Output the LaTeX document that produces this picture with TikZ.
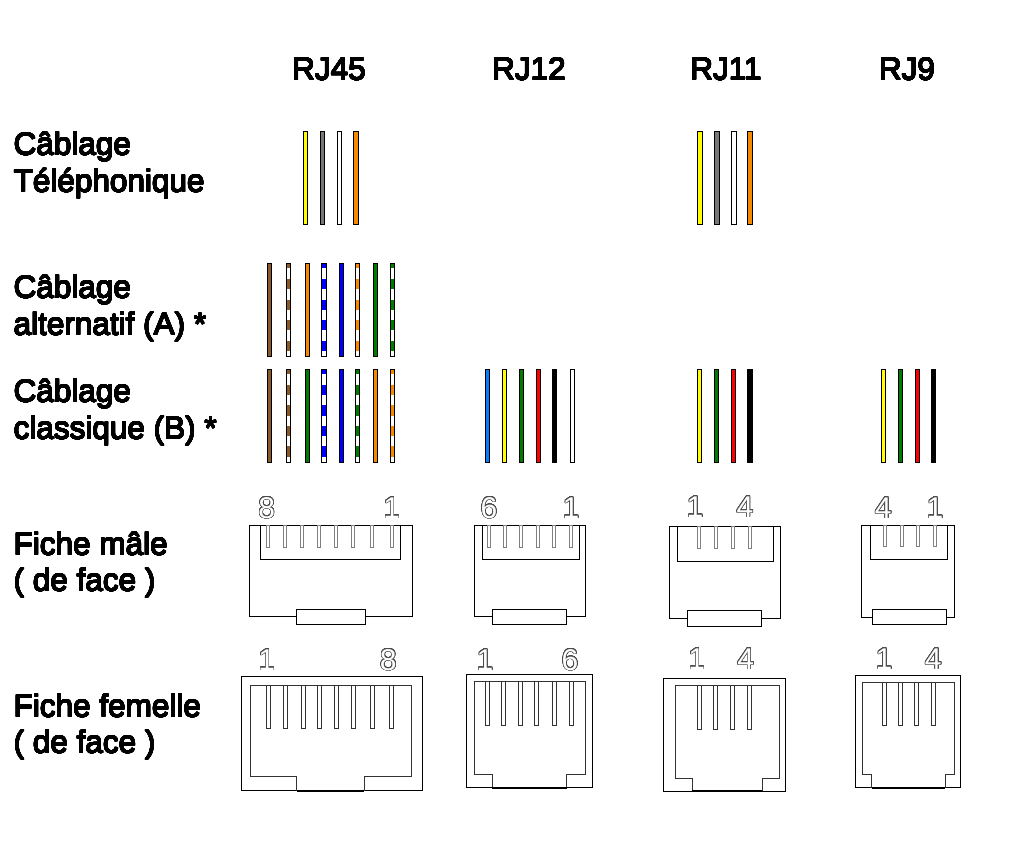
\documentclass[tikz,border=0pt]{standalone}
\usepackage{fontspec}
\setmainfont{Liberation Sans}
\usepackage{contour}
\contourlength{0.6pt}
\contournumber{32}
\newcommand\heavy[1]{{\contourlength{0.35pt}\contour{black}{#1}}}
\definecolor{wbrown}{HTML}{8B5A2B}
\definecolor{worange}{HTML}{F58A00}
\definecolor{wblue}{HTML}{0000FF}
\definecolor{wlblue}{HTML}{0A7CFF}
\definecolor{wgreen}{HTML}{007A00}
\definecolor{wyellow}{HTML}{FFFF00}
\definecolor{wred}{HTML}{FF0000}
\definecolor{wgray}{HTML}{777777}
\newcommand\wire[4]{%
  \filldraw[fill=#4,draw=black,line width=0.9pt] ({#1-2.1},#2) rectangle ({#1+2.1},#3);}
\newcommand\swire[4]{%
  \fill[white] ({#1-2.1},#2) rectangle ({#1+2.1},#3);
  \fill[#4] ({#1-2.1},#2) rectangle ({#1+2.1},{#2+5});
  \foreach \k in {0,...,3}{\fill[#4] ({#1-2.1},{#2+15.7+20.5*\k}) rectangle ({#1+2.1},{#2+26+20.5*\k});}
  \draw[black,line width=0.9pt] ({#1-2.1},#2) rectangle ({#1+2.1},#3);}
\begin{document}
\begin{tikzpicture}[x=1pt,y=-1pt,
  lab/.style={anchor=base west,inner sep=0pt,font=\fontsize{31.5}{36}\selectfont},
  head/.style={anchor=base,inner sep=0pt,font=\fontsize{31.5}{36}\selectfont},
  num/.style={anchor=base,inner sep=0pt,font=\fontsize{30}{34}\selectfont,text=white},
  body/.style={draw=black,line width=1pt},
  inner/.style={draw=black!80,line width=1pt},
  mpin/.style={draw=black!50,line width=0.9pt},
  fpin/.style={draw=black!80,line width=0.9pt}]
\fill[white] (0,0) rectangle (1011,845);
\useasboundingbox (0,0) rectangle (1011,845);

% headers
\node[head] (h45) at (329,80) {\heavy{RJ45}};
\node[head] (h12) at (529,80) {\heavy{RJ12}};
\node[head] (h11) at (726,80) {\heavy{RJ11}};
\node[head] (h9) at (907,80) {\heavy{RJ9}};

% labels
\node[lab] (l1a) at (13.5,155) {\heavy{Câblage}};
\node[lab] (l1b) at (13.5,192) {\heavy{Téléphonique}};
\node[lab] (l2a) at (13.5,298) {\heavy{Câblage}};
\node[lab] (l2b) at (13.5,335) {\heavy{alternatif (A) *}};
\node[lab] (l3a) at (13.5,402) {\heavy{Câblage}};
\node[lab] (l3b) at (13.5,439) {\heavy{classique (B) *}};
\node[lab] (l4a) at (13.5,555) {\heavy{Fiche mâle}};
\node[lab] (l4b) at (13.5,591) {\heavy{( de face )}};
\node[lab] (l5a) at (13.5,717) {\heavy{Fiche femelle}};
\node[lab] (l5b) at (13.5,753) {\heavy{( de face )}};

% telephone wiring
\wire{305.7}{131}{224}{wyellow}
\wire{322.7}{131}{224}{wgray}
\wire{339.3}{131}{224}{white}
\wire{356}{131}{224}{worange}
\wire{700}{131}{224}{wyellow}
\wire{717}{131}{224}{wgray}
\wire{734}{131}{224}{white}
\wire{750}{131}{224}{worange}

% alternative (A)
\wire{269.3}{263.3}{356.7}{wbrown}
\swire{288.3}{263.3}{356.7}{wbrown}
\wire{307.3}{263.3}{356.7}{worange}
\swire{324}{263.3}{356.7}{wblue}
\wire{341.3}{263.3}{356.7}{wblue}
\swire{357.3}{263.3}{356.7}{worange}
\wire{375.3}{263.3}{356.7}{wgreen}
\swire{392.3}{263.3}{356.7}{wgreen}

% classic (B)
\wire{269.3}{369}{462.3}{wbrown}
\swire{288.3}{369}{462.3}{wbrown}
\wire{307.3}{369}{462.3}{wgreen}
\swire{324}{369}{462.3}{wblue}
\wire{341.3}{369}{462.3}{wblue}
\swire{357.3}{369}{462.3}{wgreen}
\wire{375.3}{369}{462.3}{worange}
\swire{392.3}{369}{462.3}{worange}

% RJ12
\wire{487.3}{369.3}{462.3}{wlblue}
\wire{504.3}{369.3}{462.3}{wyellow}
\wire{521.3}{369.3}{462.3}{wgreen}
\wire{538.3}{369.3}{462.3}{wred}
\wire{554.3}{369.3}{462.3}{black}
\wire{572.3}{369.3}{462.3}{white}

% RJ11
\wire{699.7}{369.3}{462.3}{wyellow}
\wire{716.7}{369.3}{462.3}{wgreen}
\wire{733.7}{369.3}{462.3}{wred}
\wire{750}{369.3}{462.3}{black}

% RJ9
\wire{883.3}{369.3}{462.3}{wyellow}
\wire{900.3}{369.3}{462.3}{wgreen}
\wire{917.3}{369.3}{462.3}{wred}
\wire{933.3}{369.3}{462.3}{black}

% ---------- male plugs ----------
% RJ45 male
\draw[body] (296.7,616.7) -- (249.3,616.7) -- (249.3,525) -- (412.3,525) -- (412.3,616.7) -- (365,616.7);
\draw[body] (296.7,609) rectangle (365,624.3);
\draw[body] (260.7,525) rectangle (400.7,559);
\foreach \p in {267.7,285,302,319,336.3,353,371.7,391.7}{\draw[mpin] ({\p-1.6},525) rectangle ({\p+1.6},547.3);}
\node[num] (m45a) at (266.7,518) {\contour{black!70}{8}};
\node[num] (m45b) at (391.7,518) {\contour{black!70}{1}};

% RJ12 male
\draw[body] (492.3,616) -- (474,616) -- (474,525.7) -- (585.3,525.7) -- (585.3,616) -- (566.7,616);
\draw[body] (492.3,609) rectangle (566.7,624.3);
\draw[body] (482.3,525.7) rectangle (579.3,559);
\foreach \p in {489.3,505,521,537.7,554.3,571}{\draw[mpin] ({\p-1.6},525.7) rectangle ({\p+1.6},547.3);}
\node[num] (m12a) at (489,518) {\contour{black!70}{6}};
\node[num] (m12b) at (571,518) {\contour{black!70}{1}};

% RJ11 male
\draw[body] (687.3,618.3) -- (669,618.3) -- (669,526.7) -- (780.3,526.7) -- (780.3,618.3) -- (761.7,618.3);
\draw[body] (687.3,610) rectangle (761.7,626.7);
\draw[body] (677.3,526.7) rectangle (773.3,561);
\foreach \p in {699.3,716,733.3,750}{\draw[mpin] ({\p-1.6},526.7) rectangle ({\p+1.6},548.3);}
\node[num] (m11a) at (695,517) {\contour{black!70}{1}};
\node[num] (m11b) at (745,517) {\contour{black!70}{4}};

% RJ9 male
\draw[body] (872.3,617.3) -- (861.7,617.3) -- (861.7,525) -- (954,525) -- (954,617.3) -- (946.7,617.3);
\draw[body] (872.3,609) rectangle (946.7,624.3);
\draw[body] (870.7,525) rectangle (947.3,559);
\foreach \p in {885,901.7,918.3,935}{\draw[mpin] ({\p-1.6},525) rectangle ({\p+1.6},546.7);}
\node[num] (m9a) at (883.3,518) {\contour{black!70}{4}};
\node[num] (m9b) at (935,518) {\contour{black!70}{1}};

% ---------- female plugs ----------
% RJ45 female
\draw[body] (241,676.7) rectangle (422.7,790.7);
\draw[inner] (296.7,790.7) -- (296.7,776.7) -- (250.7,776.7) -- (250.7,685) -- (411.7,685) -- (411.7,776.7) -- (364,776.7) -- (364,790.7);
\draw[black,line width=1.6pt] (296.7,790.7) -- (364,790.7);
\foreach \p in {268.3,285.3,303.3,319.3,336.7,353.3,372.3,391.7}{\draw[fpin] ({\p-2},685) rectangle ({\p+2},728.3);}
\node[num] (f45a) at (266.7,670) {\contour{black!70}{1}};
\node[num] (f45b) at (388.3,670) {\contour{black!70}{8}};

% RJ12 female
\draw[body] (466.7,674.3) rectangle (592.3,787.7);
\draw[inner] (492.3,787.7) -- (492.3,774.3) -- (474.3,774.3) -- (474.3,681.7) -- (585.7,681.7) -- (585.7,774.3) -- (566.7,774.3) -- (566.7,787.7);
\draw[black,line width=1.6pt] (492.3,787.7) -- (566.7,787.7);
\foreach \p in {487.3,503.3,520,536.7,554.3,571.7}{\draw[fpin] ({\p-2},681.7) rectangle ({\p+2},725);}
\node[num] (f12a) at (485,670) {\contour{black!70}{1}};
\node[num] (f12b) at (570,670) {\contour{black!70}{6}};

% RJ11 female
\draw[body] (663.3,678.3) rectangle (785.7,791);
\draw[inner] (692.3,791) -- (692.3,778.3) -- (675.7,778.3) -- (675.7,685) -- (779,685) -- (779,778.3) -- (762.3,778.3) -- (762.3,791);
\draw[black,line width=1.6pt] (692.3,791) -- (762.3,791);
\foreach \p in {699.3,715.7,732.3,749.3}{\draw[fpin] ({\p-2},685) rectangle ({\p+2},729.3);}
\node[num] (f11a) at (696.7,669) {\contour{black!70}{1}};
\node[num] (f11b) at (745.7,669) {\contour{black!70}{4}};

% RJ9 female
\draw[body] (855.7,675.7) rectangle (960.7,787.7);
\draw[inner] (871.7,787.7) -- (871.7,774.3) -- (862.7,774.3) -- (862.7,682.7) -- (954.3,682.7) -- (954.3,774.3) -- (945,774.3) -- (945,787.7);
\draw[black,line width=1.6pt] (871.7,787.7) -- (945,787.7);
\foreach \p in {884,900,916.7,933.3}{\draw[fpin] ({\p-2},682.7) rectangle ({\p+2},725.7);}
\node[num] (f9a) at (884,669) {\contour{black!70}{1}};
\node[num] (f9b) at (933.3,669) {\contour{black!70}{4}};
\end{tikzpicture}
\end{document}
